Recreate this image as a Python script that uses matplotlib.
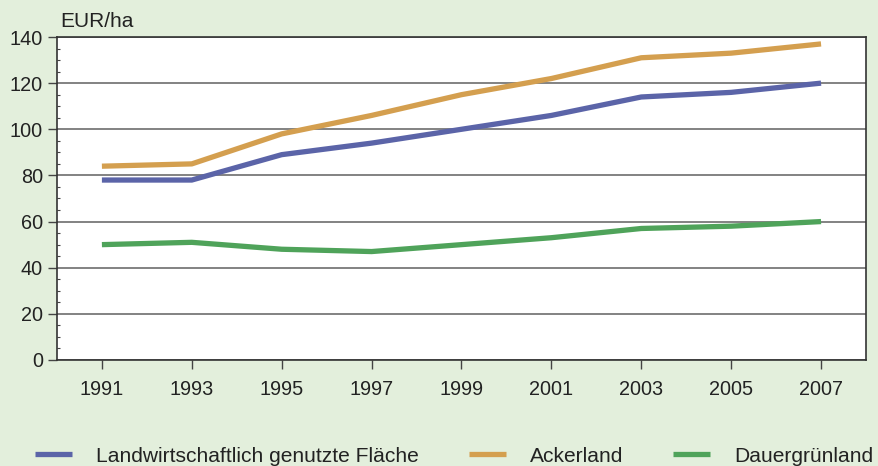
import matplotlib.pyplot as plt
from matplotlib.ticker import MultipleLocator

plt.rcParams['font.family'] = ['Liberation Sans', 'DejaVu Sans']

years = [1991, 1993, 1995, 1997, 1999, 2001, 2003, 2005, 2007]
lf_flaeche = [78, 78, 89, 94, 100, 106, 114, 116, 120]
ackerland = [84, 85, 98, 106, 115, 122, 131, 133, 137]
dauergruenland = [50, 51, 48, 47, 50, 53, 57, 58, 60]

labels = ['Landwirtschaftlich genutzte Fläche', 'Ackerland', 'Dauergrünland']
colors = ['#5b64a8', '#d49f4f', '#4fa35a']
bg = '#e3efdc'

fig = plt.figure(figsize=(8.79, 4.66), dpi=100, facecolor=bg)
ax = fig.add_axes([0.0648, 0.2275, 0.9204, 0.6931])
ax.set_facecolor('white')

for vals, lab, c in zip([lf_flaeche, ackerland, dauergruenland], labels, colors):
    ax.plot(years, vals, color=c, lw=3.8, label=lab, solid_capstyle='butt')

ax.set_xlim(1990, 2008)
ax.set_ylim(0, 140)
ax.set_xticks(years)
ax.set_yticks(range(0, 141, 20))
ax.yaxis.set_minor_locator(MultipleLocator(5))
ax.grid(axis='y', color='#606060', lw=1.1)
ax.set_axisbelow(True)
ax.tick_params(axis='both', which='major', labelsize=14.3, length=6.5, width=1, color='#444444',
               direction='out', labelcolor='#222222')
ax.tick_params(axis='y', which='minor', length=2.5, width=0.8, color='#444444', direction='in')
ax.tick_params(axis='x', pad=8)
ax.tick_params(axis='y', pad=3.5)
for s in ax.spines.values():
    s.set_color('#333333')
    s.set_linewidth(1.2)

fig.text(0.068, 0.953, 'EUR/ha', fontsize=15, ha='left', va='center', color='#222222')

fig.legend(loc='center left', bbox_to_anchor=(0.0398, 0.021), ncol=3, frameon=False,
           fontsize=15.1, handlelength=1.76, handletextpad=1.14, columnspacing=2.4,
           borderpad=0, borderaxespad=0, labelcolor='#222222')

fig.savefig('out.png', dpi=100, facecolor=bg)
